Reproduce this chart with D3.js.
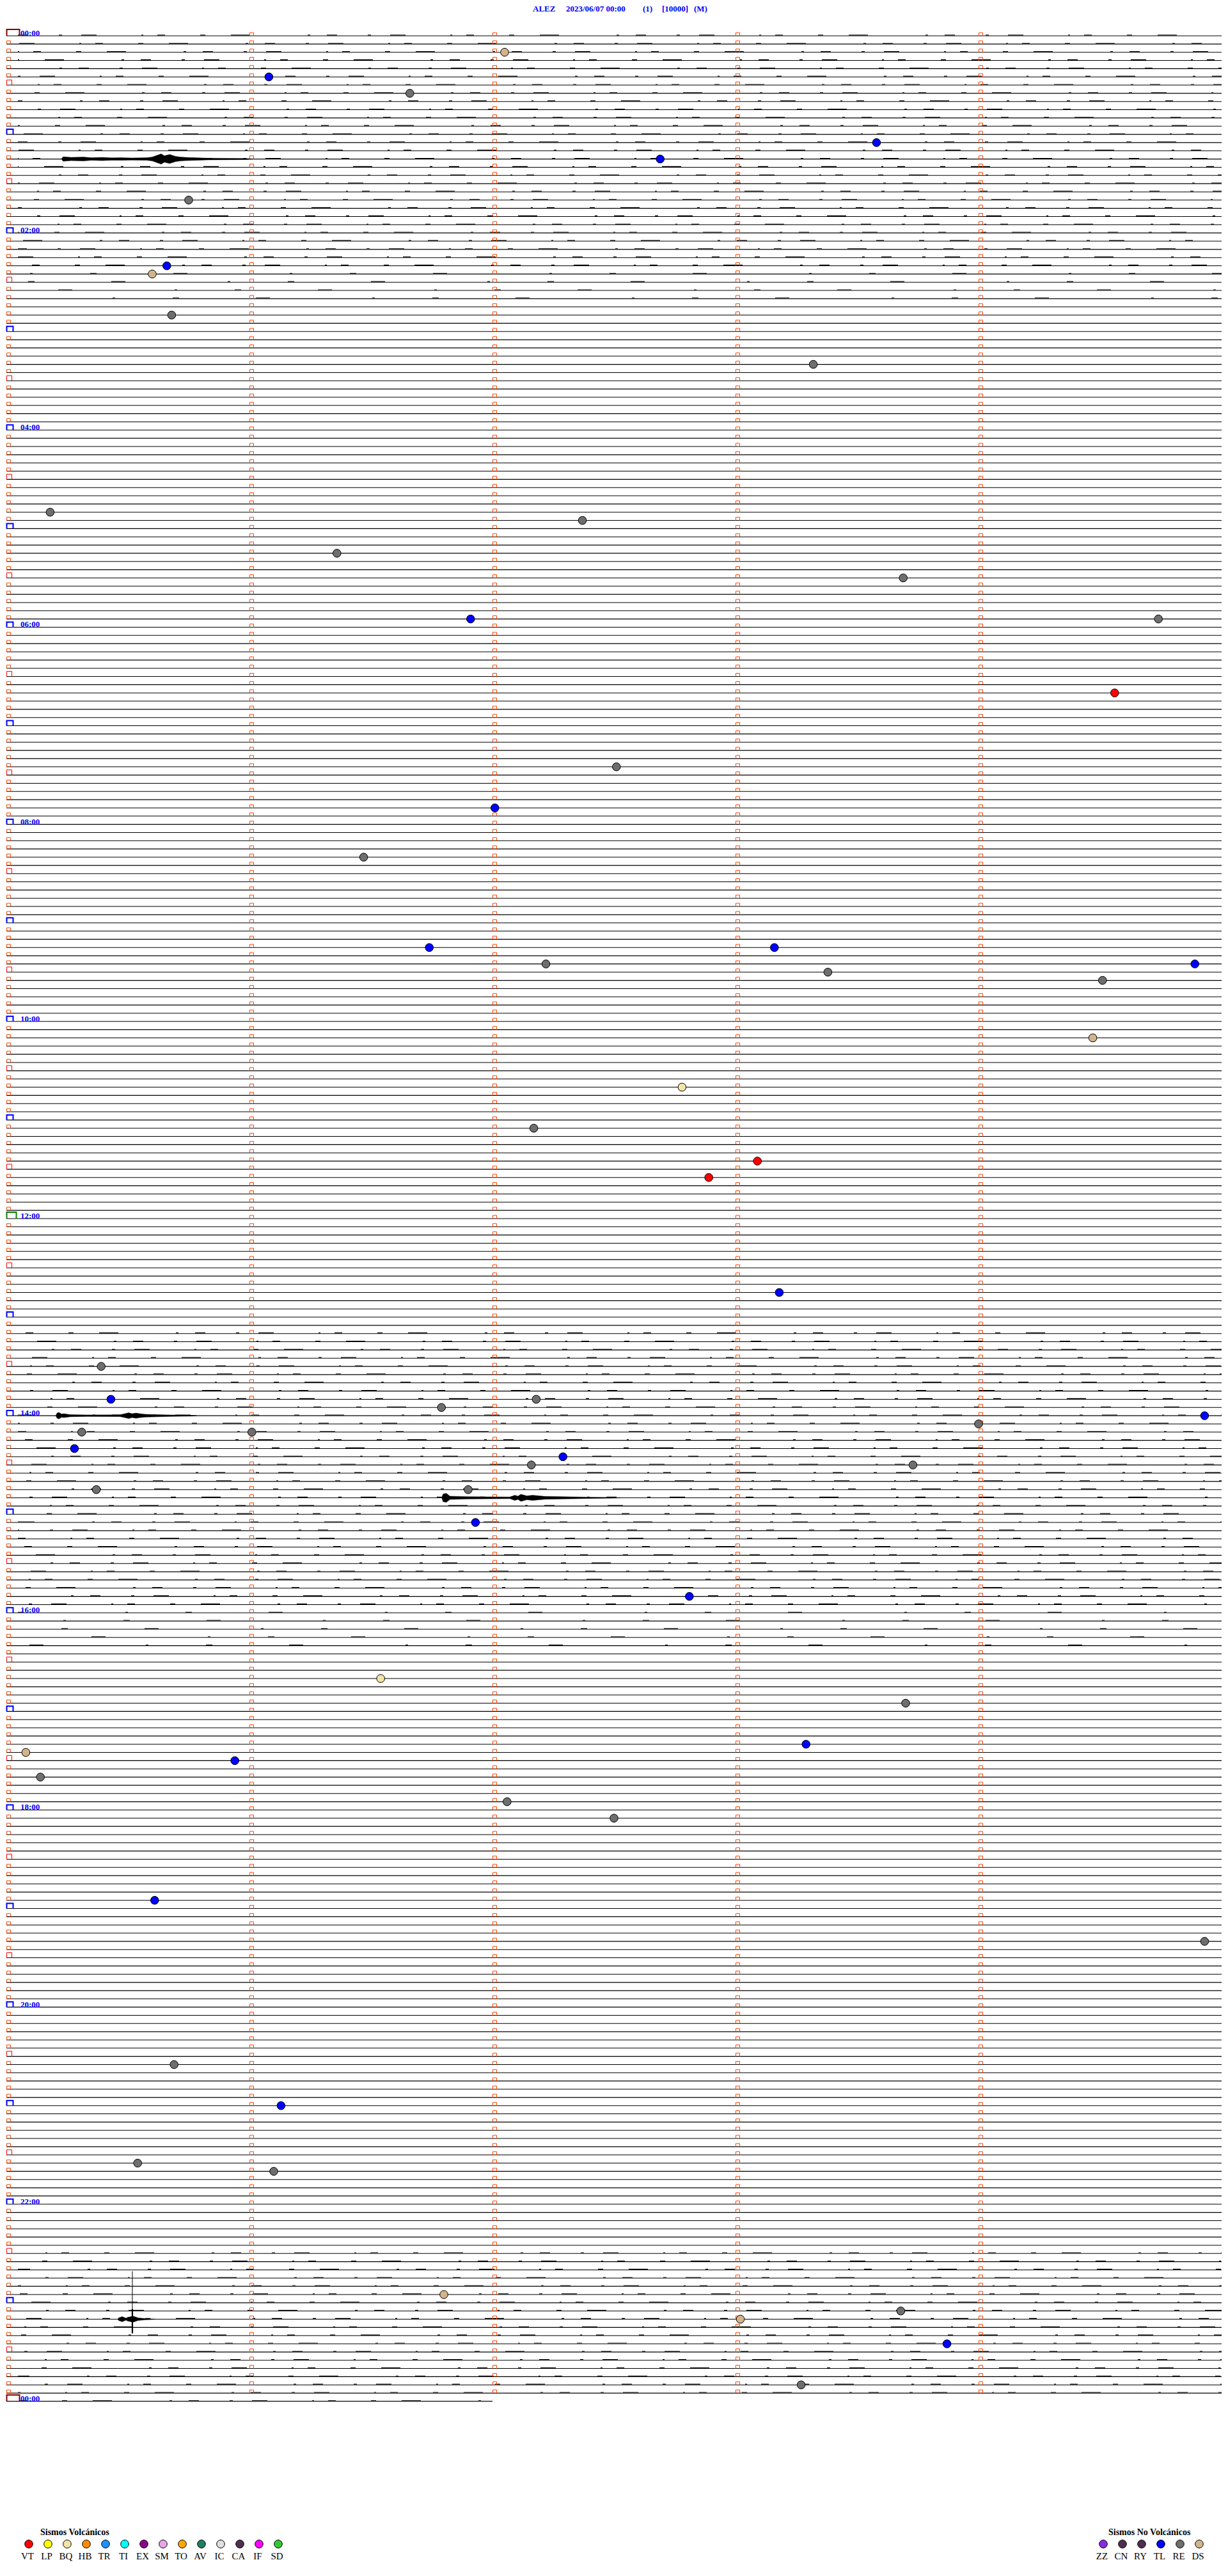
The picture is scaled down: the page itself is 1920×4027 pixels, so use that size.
<!DOCTYPE html>
<html><head><meta charset="utf-8">
<script src="https://cdn.jsdelivr.net/npm/d3@7"></script>
<style>body{margin:0;background:#fff}svg{display:block}</style>
</head><body><svg id="c" width="1920" height="4027"></svg>
<script>
// ---------- data ----------
const station = "ALEZ";
const startLabel = "2023/06/07 00:00";
const channelTag = "(1)";
const gainTag = "[10000]";
const modeTag = "(M)";
const rowMinutes = 5;          // minutes per helicorder line
const totalRows = 288;         // 24 h of 5-minute lines
const lastRowSeconds = 120;    // partial line of the next day
const hourLabels = ["00:00","02:00","04:00","06:00","08:00","10:00","12:00","14:00","16:00","18:00","20:00","22:00","00:00"];

const volcanicCodes  = ["VT","LP","BQ","HB","TR","TI","EX","SM","TO","AV","IC","CA","IF","SD"];
const volcanicColors = ["#ff0000","#ffff00","#f2e3a6","#ff8a00","#1e90ff","#00ffff","#8b008b","#e8a6e8","#ffa500","#1f7f5f","#dedede","#4f2f4f","#ff00ff","#32c832"];
const nonVolcanicCodes  = ["ZZ","CN","RY","TL","RE","DS"];
const nonVolcanicColors = ["#8a2be2","#4f2f4f","#4f2f4f","#0000ff","#6e6e6e","#d2b48c"];

// detected events: minute of day and class code
const eventMinutes = [12.05,26.08,36.66,68.58,77.69,100.75,140.66,145.60,170.68,203.32,
  290.18,297.37,316.36,333.69,356.91,359.74,404.56,447.51,472.01,501.47,
  556.74,558.16,567.22,573.38,569.89,579.51,614.47,642.78,667.17,688.09,
  697.89,768.18,810.39,830.43,836.79,832.18,844.93,849.00,850.31,851.01,
  860.28,867.29,872.16,873.73,885.37,886.90,906.93,952.81,1001.54,1018.70,
  1043.29,1050.94,1045.08,1060.14,1077.06,1087.50,1135.61,1164.93,1235.69,1261.13,
  1295.54,1301.10,1376.80,1393.02,1388.68,1408.87,1433.27];
const eventCodes = ["DS","TL","RE","TL","TL","RE","TL","DS","RE","RE",
  "RE","RE","RE","RE","TL","RE","VT","RE","TL","RE",
  "TL","TL","RE","RE","TL","RE","DS","BQ","RE","VT",
  "VT","TL","RE","TL","RE","RE","TL","RE","RE","RE",
  "TL","TL","RE","RE","RE","RE","TL","TL","BQ","RE",
  "TL","TL","DS","RE","RE","RE","TL","RE","RE","TL",
  "RE","RE","DS","DS","RE","TL","RE"];

// background noise level by line ranges [firstRow, lastRow, level]
const noiseBands = [[0,28,2],[29,32,1],[158,191,2],[192,196,1],[270,288,2]];

// burst envelopes: [second within line, half amplitude]
const burstRows = [15, 168, 178, 278];
const burstA = [[13.6,0],[14.0,3.5],[16,2.5],[19,3],[21,2],[23.7,2.5],[26,1.8],[28.4,2],[31,1.6],[34.7,2],[36,3],[37.1,5.5],[38.2,8],[39,5],[40.3,7],[41.8,4],[43,3],[44.2,2.5],[47.4,1.8],[49.7,1.3],[59.2,0.9],[61,0]];
const burstB = [[12.2,0],[12.5,4],[13,5],[13.6,2.5],[14.2,3],[15.8,1.6],[20,1.2],[28,1.3],[29.2,3],[30.2,4.5],[31,3],[32,4],[33,3],[34.3,2.2],[40.6,1.1],[45.8,0.6],[47,0]];
const burstC = [[107.5,0],[107.8,6],[108.6,7],[109.5,2.5],[113.7,1.8],[124.3,1.3],[125.5,4],[126.3,2.5],[127,5.5],[128.5,3],[129.9,4],[133,2.2],[143.7,1],[150,0.5],[152,0]];
const burstD = [[27.5,0],[27.7,2],[28.6,4],[29.5,1.5],[30,3],[30.8,4],[31.1,5],[31.6,4],[32.5,2],[34.3,1],[36,0.5],[37,0]];
const spikeRow = 278, spikeSec = 31.1, spikeUp = 75, spikeDown = 22, spikeCoreUp = 16;

// ---------- drawing ----------
const svg = d3.select("#c");
const x = d3.scaleLinear().domain([0, rowMinutes * 60]).range([10, 1910]);
const y = d3.scaleLinear().domain([0, totalRows]).range([56, 56 + 12.84 * totalRows]);
const amp = d3.scaleLinear().domain([0, 10]).range([0, 10]);
const serif = "'Liberation Serif','DejaVu Serif',serif";

// title
const titleParts = [[station, 833],[startLabel, 885],[channelTag, 1005],[gainTag, 1035],[modeTag, 1085]];
svg.selectAll("text.title").data(titleParts).join("text")
  .attr("class","title").attr("x", d => d[1]).attr("y", 18)
  .attr("font-family", serif).attr("font-weight","bold").attr("font-size", 13)
  .attr("fill", "#0000ff").text(d => d[0]);

const rows = d3.range(totalRows + 1);
const rowEnd = r => r < totalRows ? x(rowMinutes * 60) : x(lastRowSeconds);

// trace baselines
svg.append("g").selectAll("line").data(rows).join("line")
  .attr("x1", x(0)).attr("x2", rowEnd)
  .attr("y1", r => y(r)).attr("y2", r => y(r))
  .attr("stroke", "#000").attr("stroke-width", 1.1);

// noise texture (small steps of the trace)
const noiseLevel = r => { for (const b of noiseBands) if (r >= b[0] && r <= b[1]) return b[2]; return 0; };
const noisy = rows.filter(r => noiseLevel(r) > 0);
svg.append("g").selectAll("line").data(noisy).join("line")
  .attr("x1", x(0) + 18).attr("x2", rowEnd)
  .attr("y1", r => y(r) - 1.1).attr("y2", r => y(r) - 1.1)
  .attr("stroke", "#000").attr("stroke-width", 1.1)
  .attr("stroke-dasharray", r => noiseLevel(r) === 2
      ? "16 48 5 30 24 70 3 22 12 55 8 40 30 90 4 26"
      : "10 120 22 160 4 90")
  .attr("stroke-dashoffset", r => (r * 97) % 420);

// minute time marks
const minuteSecs = d3.range(60, rowMinutes * 60, 60);
const marks = [];
rows.filter(r => r < totalRows).forEach(r => minuteSecs.forEach(s => marks.push([r, s])));
svg.append("g").selectAll("path").data(marks).join("path")
  .attr("d", d => { const px = Math.round(x(d[1])) + 0.5, py = y(d[0]); return `M${px},${py}V${py-5}H${px+6}V${py}`; })
  .attr("fill", "none").attr("stroke", "#ff4500").attr("stroke-width", 1);

// left line-start marks
const leftMark = r => {
  if (r % 24 === 0) {
    if (r === 0 || r === totalRows) return {w: 20, h: 10, c: "#800000", sw: 2};
    if (r === 144) return {w: 15, h: 10, c: "#008000", sw: 2};
    return {w: 10, h: 8, c: "#0000ff", sw: 2};
  }
  if (r % 12 === 0) return {w: 10, h: 8, c: "#0000ff", sw: 2};
  if (r % 6 === 0) return {w: 8, h: 8, c: "#ff0000", sw: 1};
  return {w: 6, h: 5, c: "#ff4500", sw: 1};
};
svg.append("g").selectAll("path").data(rows).join("path")
  .attr("d", r => { const m = leftMark(r), px = x(0) + 0.5, py = y(r); return `M${px},${py}V${py-m.h}H${px+m.w}V${py}`; })
  .attr("fill", "none").attr("stroke", r => leftMark(r).c).attr("stroke-width", r => leftMark(r).sw);

// hour labels
svg.append("g").selectAll("text").data(hourLabels).join("text")
  .attr("x", 32).attr("y", (d, i) => y(i * 24))
  .attr("font-family", serif).attr("font-weight", "bold").attr("font-size", 13)
  .attr("fill", "#0000ff").text(d => d);

// bursts
const bursts = [burstA, burstB, burstC, burstD];
const gB = svg.append("g");
bursts.forEach((env, i) => {
  const r = burstRows[i];
  const area = d3.area().x(d => x(d[0])).y0(d => y(r) - amp(d[1])).y1(d => y(r) + amp(d[1]));
  gB.append("path").attr("d", area(env)).attr("fill", "#000").attr("stroke", "#000").attr("stroke-width", 0.5);
});
gB.append("line").attr("x1", x(spikeSec)).attr("x2", x(spikeSec))
  .attr("y1", y(spikeRow) - amp(spikeUp)).attr("y2", y(spikeRow) + amp(spikeDown))
  .attr("stroke", "#000").attr("stroke-width", 1);
gB.append("line").attr("x1", x(spikeSec)).attr("x2", x(spikeSec))
  .attr("y1", y(spikeRow) - amp(spikeCoreUp)).attr("y2", y(spikeRow) + amp(spikeDown))
  .attr("stroke", "#000").attr("stroke-width", 2.2);

// event markers
const colorOf = {};
volcanicCodes.forEach((c, i) => colorOf[c] = volcanicColors[i]);
nonVolcanicCodes.forEach((c, i) => colorOf[c] = nonVolcanicColors[i]);
const ev = eventMinutes.map((m, i) => {
  const r = Math.floor(m / rowMinutes);
  return {r, s: (m - r * rowMinutes) * 60, code: eventCodes[i]};
});
svg.append("g").selectAll("circle").data(ev).join("circle")
  .attr("cx", d => x(d.s)).attr("cy", d => y(d.r)).attr("r", 6.3)
  .attr("fill", d => colorOf[d.code]).attr("stroke", "#000").attr("stroke-width", 1);

// legends
function legend(title, codes, colors, x0, titleX) {
  const g = svg.append("g");
  g.append("text").attr("x", titleX).attr("y", 3963).attr("font-family", serif)
    .attr("font-weight", "bold").attr("font-size", 14).attr("fill", "#000").text(title);
  g.selectAll("circle").data(codes).join("circle")
    .attr("cx", (d, i) => x0 + i * 30).attr("cy", 3977).attr("r", 6.3)
    .attr("fill", (d, i) => colors[i]).attr("stroke", "#000").attr("stroke-width", 1);
  g.selectAll("text.l").data(codes).join("text").attr("class", "l")
    .attr("x", (d, i) => x0 + i * 30 - 2).attr("y", 4001).attr("text-anchor", "middle")
    .attr("font-family", serif).attr("font-size", 15).attr("fill", "#000").text(d => d);
}
legend("Sismos Volcánicos", volcanicCodes, volcanicColors, 45, 63);
legend("Sismos No Volcánicos", nonVolcanicCodes, nonVolcanicColors, 1725, 1733);
</script></body></html>
